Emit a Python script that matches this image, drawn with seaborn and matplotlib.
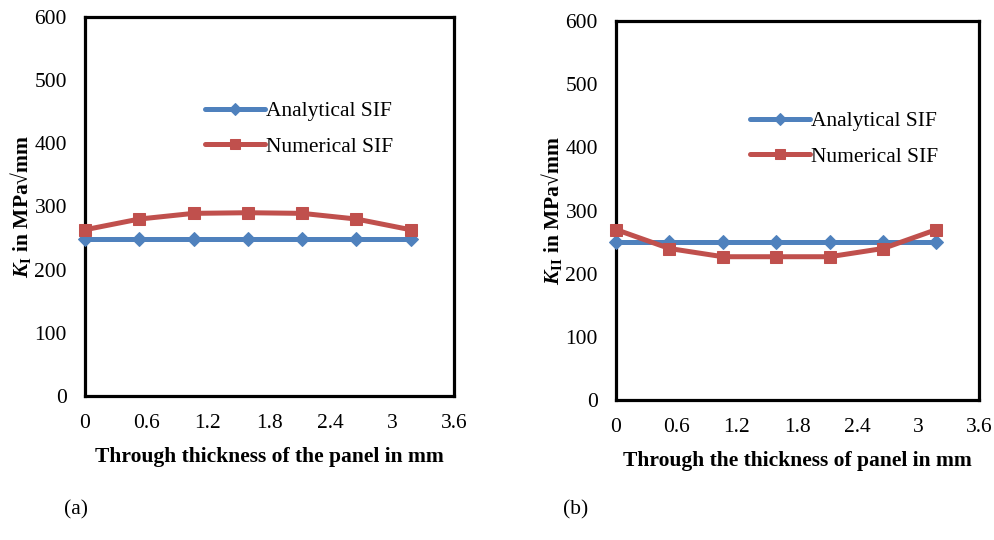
import numpy as np
import pandas as pd
import seaborn as sns
import matplotlib.pyplot as plt

# through-thickness positions (mm)
thickness = [0, 0.53, 1.06, 1.59, 2.12, 2.65, 3.18]

# (a) mode I
k1_analytical = [249, 249, 249, 249, 249, 249, 249]
k1_numerical = [263, 280, 289, 290, 289, 280, 263]

# (b) mode II
k2_analytical = [250, 250, 250, 250, 250, 250, 250]
k2_numerical = [270, 240, 227, 227, 227, 240, 270]

xticks = [0, 0.6, 1.2, 1.8, 2.4, 3, 3.6]
xticklabels = ["0", "0.6", "1.2", "1.8", "2.4", "3", "3.6"]
yticks = [0, 100, 200, 300, 400, 500, 600]

sns.set_style("white")
plt.rcParams['font.family'] = ['Liberation Serif', 'DejaVu Serif']
plt.rcParams['text.color'] = 'black'
plt.rcParams['axes.labelcolor'] = 'black'
plt.rcParams['xtick.color'] = 'black'
plt.rcParams['ytick.color'] = 'black'
plt.rcParams['mathtext.fontset'] = 'custom'
plt.rcParams['mathtext.rm'] = 'Liberation Serif'
plt.rcParams['mathtext.it'] = 'Liberation Serif:italic'
plt.rcParams['mathtext.bf'] = 'Liberation Serif:bold'
plt.rcParams['mathtext.bfit'] = 'Liberation Serif:italic:bold'

blue = '#4F81BD'
red = '#C0504D'

fig = plt.figure(figsize=(9.94, 5.4), dpi=100)
ax1 = fig.add_axes([0.0855, 0.267, 0.371, 0.7015])
ax2 = fig.add_axes([0.6197, 0.259, 0.365, 0.702])


def draw(ax, analytical, numerical, ylabel, xlabel, anchor):
    df = pd.DataFrame({"x": thickness, "Analytical SIF": analytical,
                       "Numerical SIF": numerical})
    sns.lineplot(data=df, x="x", y="Analytical SIF", ax=ax, color=blue,
                 linewidth=3.6, marker='D', markersize=7.5, markeredgecolor=blue,
                 label="Analytical SIF", clip_on=False, zorder=3)
    sns.lineplot(data=df, x="x", y="Numerical SIF", ax=ax, color=red,
                 linewidth=3.6, marker='s', markersize=8.8, markeredgecolor=red,
                 label="Numerical SIF", clip_on=False, zorder=4)
    ax.set_xlim(0, 3.6)
    ax.set_ylim(0, 600)
    ax.set_xticks(xticks)
    ax.set_xticklabels(xticklabels)
    ax.set_yticks(yticks)
    ax.tick_params(axis='both', length=0, labelsize=15.5)
    ax.tick_params(axis='x', pad=13)
    ax.tick_params(axis='y', pad=13)
    for s in ax.spines.values():
        s.set_visible(True)
        s.set_color('black')
        s.set_linewidth(2.3)
    ax.set_xlabel(xlabel, fontsize=15.5, fontweight='bold', labelpad=10)
    ax.set_ylabel(ylabel, fontsize=15.5, fontweight='bold', labelpad=1)
    ax.legend(loc='upper left', bbox_to_anchor=anchor, frameon=False,
              fontsize=15.5, handlelength=2.8, handletextpad=0.05,
              labelspacing=0.72, borderpad=0, borderaxespad=0,
              markerscale=0.8)


draw(ax1, k1_analytical, k1_numerical,
     r"$\mathbfit{K}_{\mathbf{I}}$ in MPa√mm",
     "Through thickness of the panel in mm", (0.325, 0.778))
draw(ax2, k2_analytical, k2_numerical,
     r"$\mathbfit{K}_{\mathbf{II}}$ in MPa√mm",
     "Through the thickness of panel in mm", (0.369, 0.762))

fig.text(0.0765, 0.055, "(a)", fontsize=15.5, ha='center', va='center')
fig.text(0.579, 0.055, "(b)", fontsize=15.5, ha='center', va='center')

fig.savefig("out.png", dpi=100)
